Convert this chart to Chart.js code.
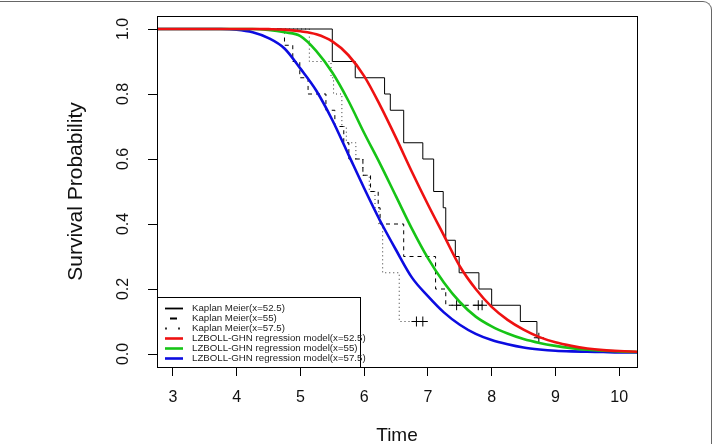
<!DOCTYPE html>
<html>
<head>
<meta charset="utf-8">
<script src="https://cdn.jsdelivr.net/npm/chart.js@4.4.1/dist/chart.umd.min.js"></script>
<style>
  html, body { margin: 0; padding: 0; background: #fff; }
  #wrap { position: relative; width: 712px; height: 444px; overflow: hidden; }
  #frame { position: absolute; left: -20px; top: 1px; width: 731px; height: 480px; border-top: 1px solid #666; border-right: 1px solid #666; border-top-right-radius: 9px; pointer-events: none; }
</style>
</head>
<body>
<div id="wrap">
  <canvas id="chart" width="712" height="444"></canvas>
  <div id="frame"></div>
</div>
<script>
// Kaplan-Meier steps (time of drop, survival after drop)
const kmTime1 = [2.75, 5.50, 5.86, 6.32, 6.41, 6.62, 6.92, 7.09, 7.24, 7.28, 7.43, 7.49, 7.80, 8.00, 8.45, 8.71, 8.74];
const kmSurv1 = [1.00, 0.90, 0.85, 0.80, 0.75, 0.65, 0.60, 0.50, 0.45, 0.35, 0.30, 0.25, 0.20, 0.15, 0.10, 0.05, 0.05];

const kmTime2 = [2.75, 4.75, 4.88, 4.99, 5.12, 5.40, 5.54, 5.68, 5.76, 5.98, 6.10, 6.22, 6.25, 6.62, 7.12, 7.28, 7.85];
const kmSurv2 = [1.00, 0.95, 0.90, 0.85, 0.80, 0.75, 0.70, 0.65, 0.60, 0.55, 0.50, 0.45, 0.40, 0.30, 0.20, 0.15, 0.15];

const kmTime3 = [2.75, 5.14, 5.48, 5.52, 5.65, 5.72, 5.87, 5.98, 6.08, 6.17, 6.23, 6.29, 6.55, 6.92];
const kmSurv3 = [1.00, 0.90, 0.85, 0.80, 0.70, 0.65, 0.60, 0.55, 0.50, 0.45, 0.40, 0.25, 0.10, 0.10];

// censored observations (+)
const censTime1 = [8.74];
const censSurv1 = [0.05];
const censTime2 = [7.45, 7.79, 7.85];
const censSurv2 = [0.15, 0.15, 0.15];
const censTime3 = [6.82, 6.92];
const censSurv3 = [0.10, 0.10];

// LZBOLL-GHN regression model curves
const modelTime = [2.75, 3.0, 3.25, 3.5, 3.75, 4.0, 4.25, 4.5, 4.75, 5.0, 5.25, 5.5, 5.75, 6.0, 6.25, 6.5, 6.75, 7.0,
                   7.25, 7.5, 7.75, 8.0, 8.25, 8.5, 8.75, 9.0, 9.25, 9.5, 9.75, 10.0, 10.28];
const model525 = [1, 1, 1, 1, 1, 1, 1, 0.9995, 0.998, 0.993, 0.984, 0.962, 0.92, 0.855, 0.765, 0.665, 0.56, 0.46,
                  0.365, 0.27, 0.2, 0.145, 0.105, 0.075, 0.052, 0.036, 0.025, 0.017, 0.012, 0.009, 0.007];
const model55 = [1, 1, 1, 1, 1, 1, 1, 0.997, 0.99, 0.978, 0.932, 0.866, 0.78, 0.68, 0.585, 0.485, 0.385, 0.295,
                 0.22, 0.16, 0.115, 0.085, 0.063, 0.046, 0.034, 0.025, 0.018, 0.013, 0.01, 0.008, 0.006];
const model575 = [1, 1, 1, 1, 1, 0.998, 0.99, 0.972, 0.94, 0.878, 0.81, 0.72, 0.615, 0.51, 0.41, 0.32, 0.235, 0.178,
                  0.128, 0.09, 0.062, 0.043, 0.03, 0.02, 0.014, 0.01, 0.008, 0.007, 0.006, 0.005, 0.005];

const xTicks = [3, 4, 5, 6, 7, 8, 9, 10];
const yTicks = [0, 0.2, 0.4, 0.6, 0.8, 1.0];

function pts(xs, ys) {
    return xs.map((x, i) => ({ x: x, y: ys[i] }));
}

const FONT = 'Liberation Sans, Arial, Helvetica, sans-serif';

// plot box + legend inside bottom-left corner
const boxAndLegend = {
    id: 'boxAndLegend',
    afterDraw(chart) {
        const ctx = chart.ctx;
        const a = chart.chartArea;
        ctx.save();
        ctx.strokeStyle = '#000';
        ctx.lineWidth = 1;
        ctx.strokeRect(Math.round(a.left) + 0.5, Math.round(a.top) + 0.5,
                       Math.round(a.right - a.left), Math.round(a.bottom - a.top));

        // legend
        const lx = Math.round(a.left) + 0.5, ly = 297.5, lw = 203, lh = Math.round(a.bottom) - 297;
        ctx.strokeRect(lx, ly, lw, lh);
        const items = chart.data.datasets.filter(d => d.label);
        ctx.font = '9.7px ' + FONT;
        ctx.textBaseline = 'middle';
        ctx.fillStyle = '#222';
        items.forEach((d, i) => {
            const y = 308.5 + i * 10;
            ctx.strokeStyle = d.borderColor;
            ctx.lineWidth = d.legendWidth;
            ctx.setLineDash(d.legendDash || []);
            ctx.beginPath();
            ctx.moveTo(165, y);
            ctx.lineTo(183, y);
            ctx.stroke();
            ctx.setLineDash([]);
            ctx.fillText(d.label, 192, y);
        });
        ctx.restore();
    }
};

const ctx = document.getElementById('chart').getContext('2d');
new Chart(ctx, {
    type: 'line',
    data: {
        datasets: [
            { label: 'Kaplan Meier(x=52.5)', data: pts(kmTime1, kmSurv1), stepped: 'before',
              borderColor: '#000', borderWidth: 1, pointRadius: 0, order: 5, legendWidth: 1.8 },
            { label: 'Kaplan Meier(x=55)', data: pts(kmTime2, kmSurv2), stepped: 'before',
              borderColor: '#000', borderWidth: 1, borderDash: [4, 4], pointRadius: 0, order: 5,
              legendWidth: 1.8, legendDash: [0, 5, 7, 100] },
            { label: 'Kaplan Meier(x=57.5)', data: pts(kmTime3, kmSurv3), stepped: 'before',
              borderColor: '#333', borderWidth: 1, borderDash: [1, 3], pointRadius: 0, order: 5,
              legendWidth: 1.8, legendDash: [2, 11, 2, 100] },
            { label: 'LZBOLL-GHN regression model(x=52.5)', data: pts(modelTime, model525),
              cubicInterpolationMode: 'monotone', borderColor: '#ee1111', borderWidth: 2.6,
              pointRadius: 0, order: 1, legendWidth: 2.6 },
            { label: 'LZBOLL-GHN regression model(x=55)', data: pts(modelTime, model55),
              cubicInterpolationMode: 'monotone', borderColor: '#16c416', borderWidth: 2.6,
              pointRadius: 0, order: 2, legendWidth: 2.6 },
            { label: 'LZBOLL-GHN regression model(x=57.5)', data: pts(modelTime, model575),
              cubicInterpolationMode: 'monotone', borderColor: '#0c0ce0', borderWidth: 2.6,
              pointRadius: 0, order: 3, legendWidth: 2.6 },
            { data: pts(censTime1, censSurv1), showLine: false, pointStyle: 'cross', pointRadius: 5,
              pointBorderColor: '#000', pointBorderWidth: 1, borderColor: '#000', order: 4 },
            { data: pts(censTime2, censSurv2), showLine: false, pointStyle: 'cross', pointRadius: 5,
              pointBorderColor: '#000', pointBorderWidth: 1, borderColor: '#000', order: 4 },
            { data: pts(censTime3, censSurv3), showLine: false, pointStyle: 'cross', pointRadius: 5,
              pointBorderColor: '#000', pointBorderWidth: 1, borderColor: '#000', order: 4 }
        ]
    },
    options: {
        responsive: false,
        animation: false,
        layout: { padding: { left: 0, top: 16, right: 75, bottom: 0 } },
        plugins: {
            legend: { display: false },
            tooltip: { enabled: false }
        },
        scales: {
            x: {
                type: 'linear',
                min: 2.75,
                max: 10.28,
                afterBuildTicks: s => { s.ticks = xTicks.map(v => ({ value: v })); },
                afterFit: s => { s.height = 77; s.paddingLeft = 0; s.paddingRight = 0; },
                grid: { display: true, drawOnChartArea: false, drawTicks: true, tickLength: 9, color: '#000' },
                border: { display: false },
                ticks: { autoSkip: false, maxRotation: 0, padding: 12, color: '#111',
                         font: { family: FONT, size: 16 } },
                title: { display: true, text: 'Time', color: '#111',
                         font: { family: FONT, size: 19, lineHeight: 1 }, padding: { top: 0, bottom: -1 } }
            },
            y: {
                type: 'linear',
                min: -0.04,
                max: 1.04,
                afterBuildTicks: s => { s.ticks = yTicks.map(v => ({ value: v })); },
                afterFit: s => { s.width = 157; s.paddingTop = 0; s.paddingBottom = 0; },
                grid: { display: true, drawOnChartArea: false, drawTicks: true, tickLength: 9, color: '#000' },
                border: { display: false },
                ticks: { autoSkip: false, minRotation: 90, maxRotation: 90, crossAlign: 'center', padding: 13,
                         color: '#111', font: { family: FONT, size: 16 },
                         callback: v => v.toFixed(1) },
                title: { display: true, text: 'Survival Probability', color: '#111',
                         font: { family: FONT, size: 21, lineHeight: 1 }, padding: { top: 66, bottom: 0 } }
            }
        }
    },
    plugins: [boxAndLegend]
});
</script>
</body>
</html>
